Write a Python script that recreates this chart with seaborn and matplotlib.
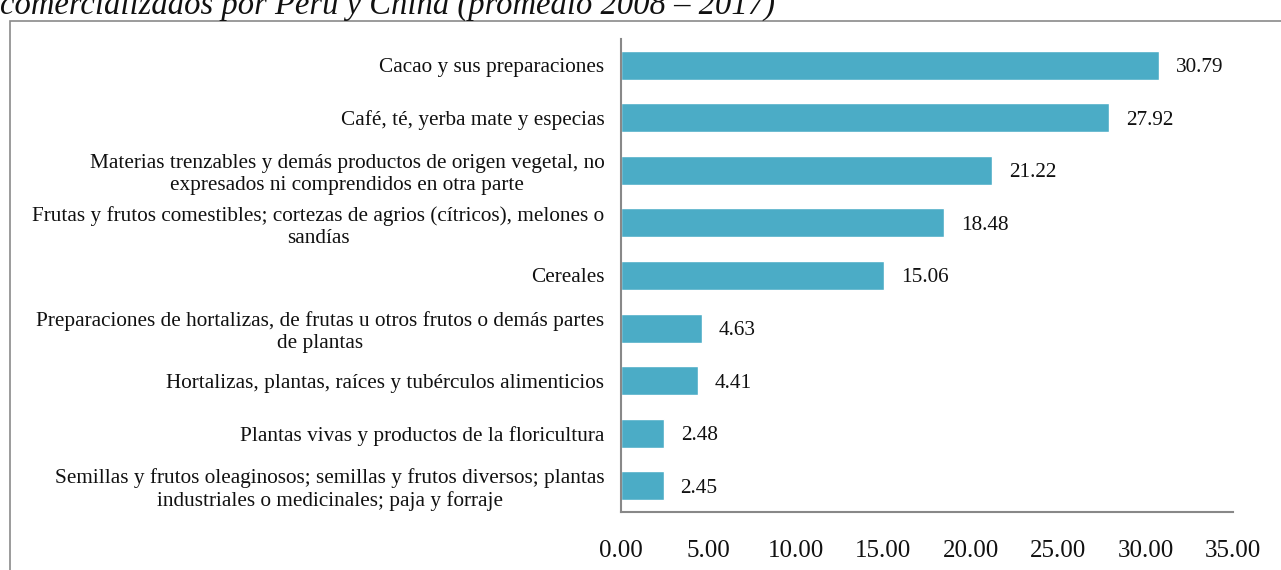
import matplotlib
matplotlib.use('Agg')
import matplotlib.pyplot as plt
import seaborn as sns
import pandas as pd
from matplotlib.patches import Rectangle

categories = [
    "Cacao y sus preparaciones",
    "Café, té, yerba mate y especias",
    "Materias trenzables y demás productos de origen vegetal, no\nexpresados ni comprendidos en otra parte",
    "Frutas y frutos comestibles; cortezas de agrios (cítricos), melones o\nsandías",
    "Cereales",
    "Preparaciones de hortalizas, de frutas u otros frutos o demás partes\nde plantas",
    "Hortalizas, plantas, raíces y tubérculos alimenticios",
    "Plantas vivas y productos de la floricultura",
    "Semillas y frutos oleaginosos; semillas y frutos diversos; plantas\nindustriales o medicinales; paja y forraje",
]
values = [30.79, 27.92, 21.22, 18.48, 15.06, 4.63, 4.41, 2.48, 2.45]
xticks = [0, 5, 10, 15, 20, 25, 30, 35]
title_text = "comercializados por Perú y China (promedio 2008 – 2017)"

sns.set_theme(style='white')
plt.rcParams['font.family'] = ['Liberation Serif', 'DejaVu Serif']

W, H = 1281, 570
fig = plt.figure(figsize=(W / 100, H / 100), dpi=100)
fig.patch.set_facecolor('white')
ax = fig.add_axes([621 / W, 1 - 512 / H, (1233 - 621) / W, (512 - 39) / H])

df = pd.DataFrame({'cat': categories, 'val': values})
sns.barplot(data=df, x='val', y='cat', orient='h', color='#4BACC6',
            width=0.55, saturation=1, ax=ax, errorbar=None)

texts = ax.bar_label(ax.containers[0], labels=[f'{v:.2f}' for v in values],
                     padding=12, fontsize=15.3, color='#111111')
for t in texts:
    t.set_va('center_baseline')

ax.set_xlim(0, 35)
ax.set_xticks(xticks)
ax.set_xticklabels([f'{t:.2f}' for t in xticks], fontsize=18, color='#111111')
ax.set_xlabel('')
ax.set_ylabel('')
ax.tick_params(axis='x', length=0, pad=20)
ax.tick_params(axis='y', length=0, pad=12, labelsize=15.3, labelcolor='#111111')
for lbl in ax.get_yticklabels():
    lbl.set_multialignment('center')

for s in ['top', 'right']:
    ax.spines[s].set_visible(False)
for s in ['left', 'bottom']:
    ax.spines[s].set_color('#888888')
    ax.spines[s].set_linewidth(1.5)

border = Rectangle((10 / W, -0.2), 2.0, 1 - 21 / H + 0.2, transform=fig.transFigure,
                   fill=False, edgecolor='#8a8a8a', linewidth=1.2, clip_on=False)
fig.add_artist(border)

fig.text(0.0, 1 - 14 / H, title_text, style='italic', fontsize=23.5,
         ha='left', va='baseline', color='#111111')

fig.savefig('out.png', dpi=100)
